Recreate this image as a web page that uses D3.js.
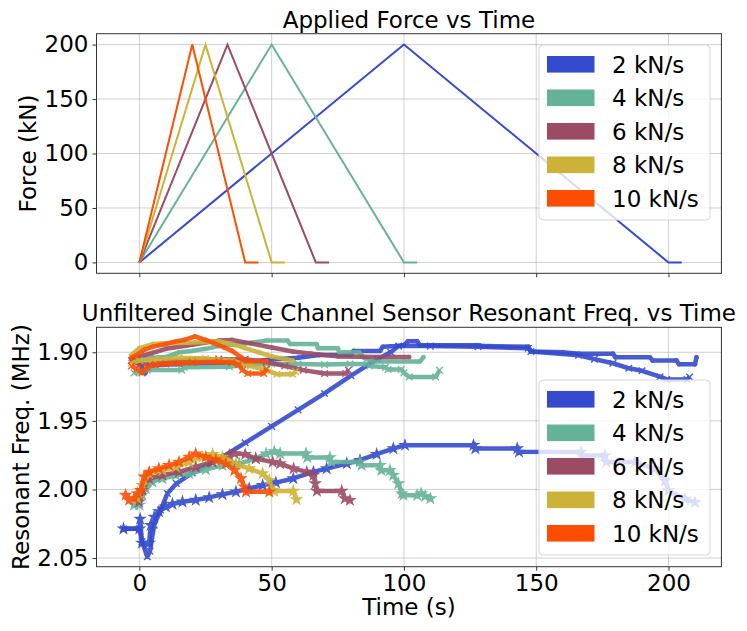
<!DOCTYPE html>
<html>
<head>
<meta charset="utf-8">
<script src="https://cdn.jsdelivr.net/npm/d3@7"></script>
<style>
  body { margin: 0; background: #fff; }
  svg text { font-family: "DejaVu Sans", sans-serif; fill: #000; }
</style>
</head>
<body>
<svg id="chart" width="747" height="631"></svg>
<script>
// ---- data ----
const rates = ["2 kN/s", "4 kN/s", "6 kN/s", "8 kN/s", "10 kN/s"];
const colors = ["#344bcd", "#64b298", "#9b4b64", "#ccb236", "#ff4d00"];

const timeTicks = [0, 50, 100, 150, 200];
const forceTicks = [0, 50, 100, 150, 200];
const freqTicks = [1.90, 1.95, 2.00, 2.05];

// applied force, [time s, force kN]
const force2 = [[0, 0], [100, 200], [200, 0], [205, 0]];
const force4 = [[0, 0], [50, 200], [100, 0], [105, 0]];
const force6 = [[0, 0], [33.3, 200], [66.7, 0], [71.7, 0]];
const force8 = [[0, 0], [25, 200], [50, 0], [55, 0]];
const force10 = [[0, 0], [20, 200], [40, 0], [45, 0]];

// resonant frequency, [time s, MHz] -- upper trace (dots), x trace, star trace
const dot2 = [[-3,1.9065],[0,1.908],[1.5,1.9125],[2.2,1.9153],[3.5,1.910],[10,1.909],[16,1.9088],[25,1.908],[34,1.9075],[40,1.9068],[49,1.9055],[60,1.904],[68,1.902],[80,1.902],[81,1.899],[91,1.899],[92,1.896],[97,1.8955],[100,1.8948],[101.5,1.892],[105,1.892],[106,1.8948],[128,1.8948],[130,1.8955],[147,1.8959],[148,1.8995],[160,1.900],[166,1.901],[179,1.901],[180,1.9037],[193,1.9037],[194,1.906],[203,1.906],[204,1.9088],[210,1.9088],[210.6,1.9036]];
const x2 = [[-6,2.0287],[0,2.0287],[1,2.038],[3,2.049],[4,2.045],[5.6,2.026],[8,2.015],[10.6,2.003],[14,1.9957],[20,1.988],[30,1.978],[40,1.966],[50,1.954],[60,1.942],[70,1.930],[80,1.917],[90,1.905],[95,1.900],[98,1.8955],[110,1.8955],[128,1.896],[147,1.8971],[148,1.8995],[166,1.9022],[172,1.905],[179,1.908],[185,1.9117],[190,1.9135],[196.8,1.9178],[199.3,1.9198],[207,1.9198],[208,1.918]];
const star2 = [[-6,2.0287],[0,2.0287],[0.3,2.0215],[1,2.039],[3.7,2.039],[4.3,2.026],[5.6,2.020],[7.4,2.016],[10,2.0126],[12.5,2.0106],[16.3,2.009],[21.3,2.0077],[26.4,2.0058],[31.4,2.0036],[36.5,2.0017],[41.5,1.9993],[46.6,1.9969],[51.6,1.995],[58.2,1.992],[65.8,1.9872],[70.8,1.9848],[78.4,1.9811],[83.4,1.9787],[89.7,1.9743],[96,1.9702],[100.4,1.9677],[126.3,1.9677],[127,1.9702],[142.8,1.9702],[143.5,1.9726],[167,1.9727],[167.5,1.9752],[176,1.9752],[176.5,1.980],[187.3,1.980],[194.9,1.9849],[198.7,1.9935],[200,2.0008],[206.3,2.007],[210,2.0094]];

const dot4 = [[-2,1.907],[0,1.9055],[5,1.904],[10,1.9035],[15,1.900],[20,1.899],[25,1.8975],[30,1.8955],[40,1.8935],[48,1.8915],[56,1.8915],[57,1.894],[67,1.894],[67.5,1.897],[75,1.897],[75.5,1.8999],[83,1.8999],[85,1.904],[88,1.9068],[106,1.9068],[107.4,1.9036]];
const x4 = [[-2,1.915],[0,1.9145],[3,1.913],[16,1.913],[17,1.911],[34,1.9105],[40,1.909],[50,1.9085],[60,1.9085],[70,1.909],[79.6,1.9085],[86,1.9085],[87,1.910],[93,1.911],[94,1.9125],[99,1.9125],[100,1.915],[102,1.918],[112,1.918],[113.5,1.913]];
const star4 = [[-2,2.0113],[0,2.0113],[1.1,2.004],[2.4,1.9993],[4.9,1.9944],[8.7,1.992],[13.8,1.9896],[18.8,1.9884],[25.1,1.9855],[31.4,1.9824],[37.8,1.9812],[44,1.9775],[47.9,1.9739],[51,1.9724],[53.2,1.9738],[63,1.9738],[63.5,1.9767],[72,1.9767],[72.5,1.9799],[83.4,1.9799],[84,1.9823],[91,1.9823],[91.5,1.986],[94.7,1.986],[96,1.9896],[97.9,1.9957],[99.2,2.003],[99.8,2.0042],[105,2.0042],[106.5,2.003],[108,2.005],[110,2.0066]];

const dot6 = [[-3,1.905],[0,1.903],[5,1.9005],[10,1.8975],[20,1.8945],[30,1.8915],[35,1.891],[42,1.8935],[50,1.8965],[58,1.8995],[65,1.901],[75,1.903],[90,1.9035],[102,1.9035]];
const x6 = [[-3,1.906],[0,1.909],[10,1.907],[20,1.9055],[30,1.905],[40,1.905],[48,1.907],[55,1.910],[62,1.913],[70,1.9155],[78,1.9155],[79,1.913]];
const star6 = [[-0.1,2.009],[1.1,2.0005],[3.7,1.992],[8.7,1.9896],[15,1.9872],[21.3,1.9836],[27.7,1.980],[34,1.9751],[36,1.9738],[40,1.9744],[44,1.9775],[50.4,1.980],[53.2,1.9811],[58.3,1.9848],[63.3,1.9872],[65.8,1.9896],[66.5,1.9957],[67.1,2.0011],[76.5,2.0011],[77.7,2.0066],[79.6,2.0078]];

const dot8 = [[-3,1.902],[0,1.897],[5,1.894],[10,1.8935],[18,1.893],[25,1.8925],[30,1.892],[35,1.894],[40,1.897],[45,1.900],[50,1.903],[55,1.905],[58,1.906]];
const x8 = [[-3,1.908],[0,1.906],[5,1.9055],[15,1.904],[25,1.9045],[35,1.906],[42,1.910],[48,1.913],[52,1.916],[58,1.916],[59,1.914]];
const star8 = [[-0.8,2.0065],[1.1,1.9969],[3.7,1.9884],[8.7,1.986],[13.8,1.9836],[18.8,1.980],[23.9,1.9763],[27.7,1.9744],[31.4,1.9763],[36.5,1.9812],[41.5,1.9848],[46.6,1.9884],[49.1,1.9932],[50.4,2.0005],[51,2.0012],[58.2,2.0012],[59.4,2.0073]];

const dot10 = [[-3,1.904],[-1,1.902],[2,1.898],[5,1.896],[10,1.894],[14,1.892],[17,1.891],[21,1.8885],[25,1.891],[29,1.894],[32,1.8965],[35,1.899],[38,1.903],[40,1.9065],[48,1.9065]];
const x10 = [[-3,1.910],[-1,1.912],[1,1.915],[3,1.911],[6,1.909],[10,1.9085],[15,1.908],[20,1.9075],[30,1.907],[35,1.9075],[37.5,1.909],[39,1.913],[41,1.9155],[47,1.9155],[48,1.912]];
const star10 = [[-5.2,2.0041],[-3.9,2.0077],[-2,2.0065],[-0.8,2.0029],[0.5,2.0005],[1.8,1.9908],[3.7,1.9872],[7.4,1.9848],[11.2,1.9824],[15,1.980],[18.8,1.9763],[21.3,1.974],[25.1,1.9763],[28.9,1.9783],[32.7,1.9812],[35.9,1.986],[38.4,1.992],[39.6,1.998],[40.3,2.0017],[49.1,2.0017]];

const forceSeries = [force2, force4, force6, force8, force10];
const freqSeries = [
  [dot2, x2, star2], [dot4, x4, star4], [dot6, x6, star6], [dot8, x8, star8], [dot10, x10, star10]
];

// ---- layout ----
const left = 96.5, right = 721.4;
const top1 = 33.7, bot1 = 273.3;
const top2 = 327.3, bot2 = 566.7;
const fs = 23;

const svg = d3.select("#chart");

const x = d3.scaleLinear().domain([-16.2, 220]).range([left, right]);
const yForce = d3.scaleLinear().domain([-10, 210]).range([bot1, top1]);
const yFreq = d3.scaleLinear().domain([1.8818, 2.0563]).range([top2, bot2]);

function styleAxis(g) {
  g.select(".domain").remove();
  g.selectAll(".tick line").attr("stroke", "#333");
  g.selectAll("text").attr("font-size", fs).attr("font-family", "DejaVu Sans").attr("fill", "#000");
}

function grid(y0, y1, yScale, yTicks) {
  const g = svg.append("g").attr("stroke", "#b0b0b0").attr("stroke-opacity", 0.6).attr("stroke-width", 1);
  timeTicks.forEach(t => g.append("line").attr("x1", x(t)).attr("x2", x(t)).attr("y1", y0).attr("y2", y1));
  yTicks.forEach(v => g.append("line").attr("x1", left).attr("x2", right).attr("y1", yScale(v)).attr("y2", yScale(v)));
}

function frame(y0, y1) {
  svg.append("rect").attr("x", left).attr("y", y0).attr("width", right - left).attr("height", y1 - y0)
    .attr("fill", "none").attr("stroke", "#333").attr("stroke-width", 1);
}

function legend(y0) {
  const g = svg.append("g");
  g.append("rect").attr("x", 539).attr("y", y0).attr("width", 171).attr("height", 175).attr("rx", 4)
    .attr("fill", "#fff").attr("fill-opacity", 0.8).attr("stroke", "#d6d6d6");
  rates.forEach((r, i) => {
    const cy = y0 + 19.3 + i * 33.5;
    g.append("rect").attr("x", 547).attr("y", cy - 8.3).attr("width", 47.5).attr("height", 16.6).attr("fill", colors[i]);
    g.append("text").attr("x", 612).attr("y", cy + 8.4).attr("font-size", fs).text(r);
  });
}

// ---- top panel: applied force ----
grid(top1, bot1, yForce, forceTicks);

svg.append("g").attr("transform", `translate(0,${bot1})`)
  .call(d3.axisBottom(x).tickValues(timeTicks).tickSize(4).tickFormat(""))
  .call(styleAxis);
svg.append("g").attr("transform", `translate(${left},0)`)
  .call(d3.axisLeft(yForce).tickValues(forceTicks).tickSize(4).tickPadding(4).tickFormat(d3.format("d")))
  .call(styleAxis);

const forceLine = d3.line().x(d => x(d[0])).y(d => yForce(d[1]));
forceSeries.forEach((s, i) => {
  svg.append("path").datum(s).attr("d", forceLine)
    .attr("fill", "none").attr("stroke", colors[i]).attr("stroke-width", 2);
});

frame(top1, bot1);
legend(45);

svg.append("text").attr("x", (left + right) / 2).attr("y", 27.5).attr("text-anchor", "middle")
  .attr("font-size", fs).text("Applied Force vs Time");
svg.append("text").attr("transform", `translate(36,${(top1 + bot1) / 2}) rotate(-90)`)
  .attr("text-anchor", "middle").attr("font-size", fs).text("Force (kN)");

// ---- bottom panel: resonant frequency ----
grid(top2, bot2, yFreq, freqTicks);

svg.append("g").attr("transform", `translate(0,${bot2})`)
  .call(d3.axisBottom(x).tickValues(timeTicks).tickSize(4).tickPadding(4).tickFormat(d3.format("d")))
  .call(styleAxis);
svg.append("g").attr("transform", `translate(${left},0)`)
  .call(d3.axisLeft(yFreq).tickValues(freqTicks).tickSize(4).tickPadding(4).tickFormat(d3.format(".2f")))
  .call(styleAxis);

svg.append("clipPath").attr("id", "clip2").append("rect")
  .attr("x", left).attr("y", top2).attr("width", right - left).attr("height", bot2 - top2);
const plot2 = svg.append("g").attr("clip-path", "url(#clip2)");

const freqLine = d3.line().x(d => x(d[0])).y(d => yFreq(d[1]));
const xSym = d3.symbolX || d3.symbolTimes || d3.symbolCross;
const markers = [null, d3.symbol().type(xSym).size(30), d3.symbol().type(d3.symbolStar).size(28)];

freqSeries.forEach((traces, i) => {
  traces.forEach((s, k) => {
    const g = plot2.append("g").attr("opacity", 0.9);
    g.append("path").datum(s).attr("d", freqLine)
      .attr("fill", "none").attr("stroke", colors[i]).attr("stroke-width", 4.5)
      .attr("stroke-linejoin", "round");
    if (k === 0) {
      g.selectAll("circle").data(s).join("circle")
        .attr("cx", d => x(d[0])).attr("cy", d => yFreq(d[1])).attr("r", 2.4).attr("fill", colors[i]);
    } else {
      g.selectAll(".m").data(s).join("path").attr("class", "m")
        .attr("transform", d => `translate(${x(d[0])},${yFreq(d[1])})`)
        .attr("d", markers[k])
        .attr("fill", colors[i]).attr("stroke", colors[i]).attr("stroke-width", 1.4);
    }
  });
});

frame(top2, bot2);
legend(380);

svg.append("text").attr("x", (left + right) / 2).attr("y", 321).attr("text-anchor", "middle")
  .attr("font-size", fs).text("Unfiltered Single Channel Sensor Resonant Freq. vs Time");
svg.append("text").attr("transform", `translate(29,${(top2 + bot2) / 2}) rotate(-90)`)
  .attr("text-anchor", "middle").attr("font-size", fs).text("Resonant Freq. (MHz)");
svg.append("text").attr("x", (left + right) / 2).attr("y", 615).attr("text-anchor", "middle")
  .attr("font-size", fs).text("Time (s)");
</script>
</body>
</html>
